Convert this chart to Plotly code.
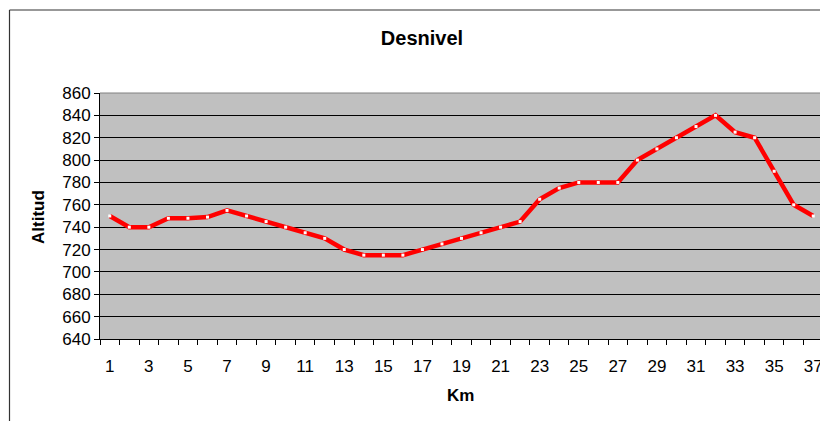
import plotly.graph_objects as go

km = list(range(1, 38))
altitud = [750, 740, 740, 748, 748, 749, 755, 750, 745, 740,
           735, 730, 720, 715, 715, 715, 720, 725, 730, 735,
           740, 745, 765, 775, 780, 780, 780, 800, 810, 820,
           830, 840, 825, 820, 790, 760, 750]
x_labels = [k for k in km if k % 2 == 1]
y_ticks = list(range(640, 861, 20))

FONT = "Liberation Sans, Arial, sans-serif"
W, H = 824, 421
L, R, T, B = 100, 0, 93, 82
pw, ph = W - L - R, H - T - B


def px_to_paper_x(sx):
    return (sx - L) / pw


def px_to_paper_y(sy):
    return (H - B - sy) / ph


fig = go.Figure()
fig.add_trace(go.Scatter(
    x=km, y=altitud, mode="lines+markers",
    line=dict(color="#FF0000", width=4.5),
    marker=dict(symbol="square", size=3, color="white", line=dict(width=0)),
    showlegend=False, hoverinfo="x+y",
))

fig.update_layout(
    width=W, height=H,
    margin=dict(l=L, r=R, t=T, b=B, pad=0),
    paper_bgcolor="white",
    plot_bgcolor="#C0C0C0",
    font=dict(family=FONT, size=17, color="black"),
    title=dict(text="<b>Desnivel</b>", x=422 / W, xanchor="center",
               y=1 - 38 / H, yanchor="middle",
               font=dict(family=FONT, size=20, color="black")),
    xaxis=dict(
        range=[0.5, 37.55], tickmode="array", tickvals=x_labels,
        ticktext=[str(v) for v in x_labels],
        ticks="outside", ticklen=12, tickcolor="rgba(0,0,0,0)",
        ticklabeloverflow="allow",
        showgrid=False, zeroline=False,
        showline=True, linecolor="black", linewidth=1,
        tickfont=dict(family=FONT, size=17, color="black"),
        minor=dict(tickmode="array",
                   tickvals=[k - 0.5 for k in km] + [km[-1] + 0.5],
                   ticks="outside", ticklen=5, tickcolor="black",
                   tickwidth=1, showgrid=False),
    ),
    yaxis=dict(
        range=[640, 860], tickmode="array", tickvals=y_ticks,
        ticks="outside", ticklen=5, tickcolor="black", tickwidth=1,
        showgrid=True, gridcolor="black", gridwidth=1,
        zeroline=False, showline=True, linecolor="black", linewidth=1,
        tickfont=dict(family=FONT, size=17, color="black"),
    ),
    annotations=[
        dict(text="<b>Km</b>", xref="paper", yref="paper",
             x=px_to_paper_x(460), y=px_to_paper_y(395),
             xanchor="center", yanchor="middle", showarrow=False,
             font=dict(family=FONT, size=17, color="black")),
        dict(text="<b>Altitud</b>", xref="paper", yref="paper",
             x=px_to_paper_x(38), y=px_to_paper_y(217), textangle=-90,
             xanchor="center", yanchor="middle", showarrow=False,
             font=dict(family=FONT, size=17, color="black")),
    ],
    shapes=[
        dict(type="line", xref="paper", yref="paper",
             x0=px_to_paper_x(9.5), x1=px_to_paper_x(9.5),
             y0=px_to_paper_y(10), y1=px_to_paper_y(430),
             line=dict(color="#333333", width=1.2)),
        dict(type="line", xref="paper", yref="paper",
             x0=px_to_paper_x(9.5), x1=px_to_paper_x(830),
             y0=px_to_paper_y(10), y1=px_to_paper_y(10),
             line=dict(color="#333333", width=1.2)),
        dict(type="line", xref="paper", yref="paper", layer="below",
             x0=0, x1=1, y0=1, y1=1,
             line=dict(color="#808080", width=1)),
    ],
)

fig.write_html(
    "out.html",
    config={"displayModeBar": False},
    post_script="document.body.style.margin='0';"
                "document.body.style.overflow='hidden';",
)
